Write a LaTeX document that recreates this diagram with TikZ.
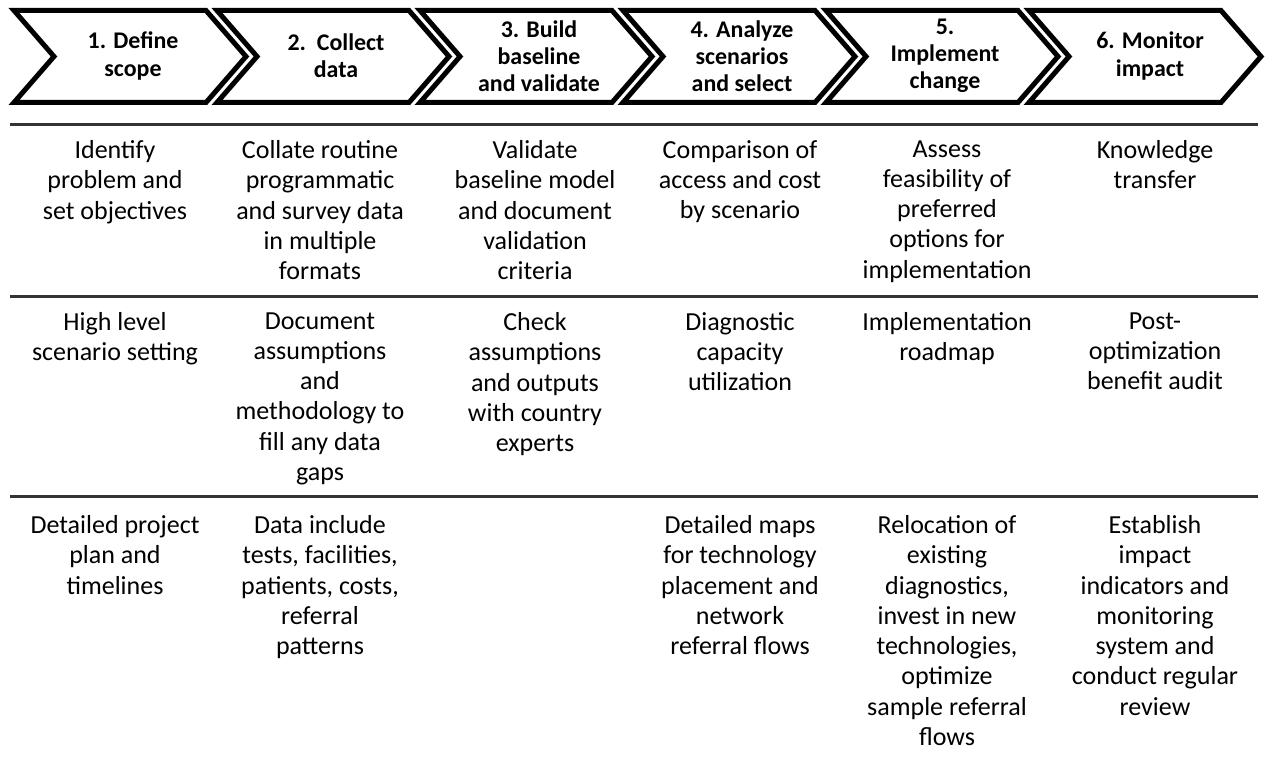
\documentclass[tikz,border=0pt]{standalone}
\usepackage{fontspec}
\setmainfont{Carlito}
\begin{document}
\begin{tikzpicture}[
  x=0.02cm, y=-0.02cm,
  stepshape/.style={draw=black, line width=0.1cm, fill=white, miter limit=10},
  steplabel/.style={font=\fontsize{13.6}{15.4}\selectfont\bfseries, align=center, inner sep=0pt},
  cell/.style={font=\fontsize{14.8}{17.25}\selectfont, align=center, anchor=north, inner sep=0pt,
    execute at begin node=\strut},
  rule/.style={line width=0.06cm, draw=black!80}
]
\useasboundingbox (0,0) rectangle (1269,763);

% Process steps
\foreach \x in {14,217,420,623,826,1029}
  \draw[stepshape] (\x,10.5) -- ++(192,0) -- ++(40,46) -- ++(-40,46) -- ++(-192,0) -- ++(40,-46) -- cycle;

\node[steplabel] (define) at (133,56) {1. Define\\scope};
\node[steplabel] (collect) at (336,56) {2.\ \ Collect\\data};
\node[steplabel] (build) at (539,56) {3. Build\\baseline\\and validate};
\node[steplabel] (analyze) at (742,56) {4. Analyze\\scenarios\\and select};
\node[steplabel] (implement) at (945,56) {5.\\Implement\\change};
\node[steplabel] (monitor) at (1150,56) {6. Monitor\\impact};

% Rules between rows
\draw[rule] (10,125) -- (1258,125);
\draw[rule] (10,297) -- (1258,297);
\draw[rule] (10,497) -- (1258,497);

% First row
\node[cell] (define_a) at (115,140) {Identify\\problem and\\set objectives};
\node[cell] (collect_a) at (320,140) {Collate routine\\programmatic\\and survey data\\in multiple\\formats};
\node[cell] (build_a) at (535,140) {Validate\\baseline model\\and document\\validation\\criteria};
\node[cell] (analyze_a) at (740,140) {Comparison of\\access and cost\\by scenario};
\node[cell] (implement_a) at (947,140) {Assess\\feasibility of\\preferred\\options for\\implementation};
\node[cell] (monitor_a) at (1155,140) {Knowledge\\transfer};

% Second row
\node[cell] (define_b) at (115,312) {High level\\scenario setting};
\node[cell] (collect_b) at (320,312) {Document\\assumptions\\and\\methodology to\\fill any data\\gaps};
\node[cell] (build_b) at (535,312) {Check\\assumptions\\and outputs\\with country\\experts};
\node[cell] (analyze_b) at (740,312) {Diagnostic\\capacity\\utilization};
\node[cell] (implement_b) at (947,312) {Implementation\\roadmap};
\node[cell] (monitor_b) at (1155,312) {Post-\\optimization\\benefit audit};

% Third row
\node[cell] (define_c) at (115,515) {Detailed project\\plan and\\timelines};
\node[cell] (collect_c) at (320,515) {Data include\\tests, facilities,\\patients, costs,\\referral\\patterns};
\node[cell] (analyze_c) at (740,515) {Detailed maps\\for technology\\placement and\\network\\referral flows};
\node[cell] (implement_c) at (947,515) {Relocation of\\existing\\diagnostics,\\invest in new\\technologies,\\optimize\\sample referral\\flows};
\node[cell] (monitor_c) at (1155,515) {Establish\\impact\\indicators and\\monitoring\\system and\\conduct regular\\review};

\end{tikzpicture}
\end{document}
